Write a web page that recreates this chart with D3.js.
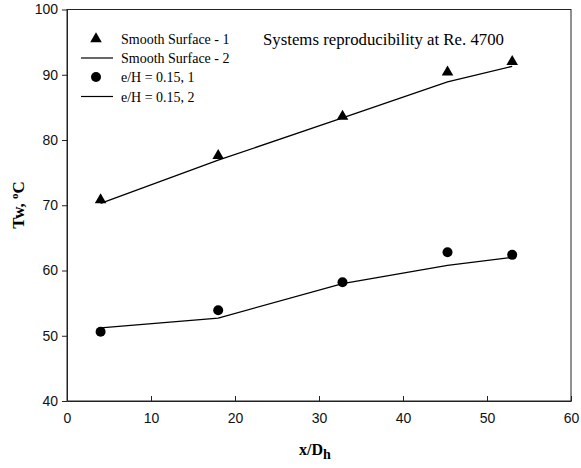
<!DOCTYPE html>
<html>
<head>
<meta charset="utf-8">
<script src="https://cdn.jsdelivr.net/npm/d3@7"></script>
<style>
  html, body { margin: 0; padding: 0; background: #fff; }
  svg { display: block; }
</style>
</head>
<body>
<svg id="chart" width="581" height="468"></svg>
<script>
// Axial positions x/Dh
const xPos = [4, 18, 32.8, 45.3, 53];

// Wall temperatures (°C)
const smooth1 = [70.8, 77.6, 83.6, 90.4, 92.0];   // symbols
const smooth2 = [70.3, 76.9, 83.4, 88.9, 91.3];   // line
const rib1    = [50.6, 53.9, 58.2, 62.8, 62.4];   // symbols
const rib2    = [51.2, 52.7, 58.0, 60.8, 62.0];   // line

const xTicks = [0, 10, 20, 30, 40, 50, 60];
const yTicks = [40, 50, 60, 70, 80, 90, 100];

const legendLabels = ["Smooth Surface - 1", "Smooth Surface - 2", "e/H = 0.15, 1", "e/H = 0.15, 2"];
const noteText = "Systems reproducibility at Re. 4700";

const svg = d3.select("#chart");
const plotL = 67, plotR = 571, plotT = 9.5, plotB = 401;

const x = d3.scaleLinear().domain([0, 60]).range([plotL, plotR]);
const y = d3.scaleLinear().domain([40, 100]).range([plotB, plotT]);

const sans = "'Liberation Sans', Arial, sans-serif";
const serif = "'Liberation Serif', 'Times New Roman', serif";

// frame
svg.append("rect")
  .attr("x", plotL).attr("y", plotT)
  .attr("width", plotR - plotL).attr("height", plotB - plotT)
  .attr("fill", "none").attr("stroke", "#222").attr("stroke-width", 1);

// x axis (ticks pointing into the plot)
const gx = svg.append("g").attr("transform", `translate(0,${plotB})`)
  .call(d3.axisBottom(x).tickValues(xTicks).tickSizeInner(-5).tickSizeOuter(0).tickPadding(12));
gx.select(".domain").attr("stroke", "#222");
gx.selectAll(".tick line").attr("stroke", "#222");
gx.selectAll("text").attr("font-family", sans).attr("font-size", 14).attr("fill", "#111");

// y axis (ticks pointing outward)
const gy = svg.append("g").attr("transform", `translate(${plotL},0)`)
  .call(d3.axisLeft(y).tickValues(yTicks).tickSizeInner(5).tickSizeOuter(0).tickPadding(4));
gy.select(".domain").attr("stroke", "#222");
gy.selectAll(".tick line").attr("stroke", "#222");
gy.selectAll("text").attr("font-family", sans).attr("font-size", 14).attr("fill", "#111");

// axis titles
const xt = svg.append("text")
  .attr("x", 315).attr("y", 455)
  .attr("text-anchor", "middle")
  .attr("font-family", serif).attr("font-weight", "bold").attr("font-size", 16);
xt.append("tspan").text("x/D");
xt.append("tspan").attr("dy", 4).attr("font-size", 14).text("h");

const yt = svg.append("text")
  .attr("transform", "translate(24,205) rotate(-90)")
  .attr("text-anchor", "middle")
  .attr("font-family", serif).attr("font-weight", "bold").attr("font-size", 17);
yt.append("tspan").text("Tw,  ");
yt.append("tspan").attr("dy", -6).attr("font-size", 11).text("o");
yt.append("tspan").attr("dy", 6).text("C");

// lines
const line = d3.line().x((d, i) => x(xPos[i])).y(d => y(d));
[smooth2, rib2].forEach(s => {
  svg.append("path").datum(s)
    .attr("d", line)
    .attr("fill", "none").attr("stroke", "#000").attr("stroke-width", 1.3);
});

// symbols
const tri = d3.symbol().type(d3.symbolTriangle).size(58);
svg.append("g").selectAll("path").data(smooth1).join("path")
  .attr("d", tri)
  .attr("transform", (d, i) => `translate(${x(xPos[i])},${y(d)})`)
  .attr("fill", "#000");

svg.append("g").selectAll("circle").data(rib1).join("circle")
  .attr("cx", (d, i) => x(xPos[i])).attr("cy", d => y(d))
  .attr("r", 5).attr("fill", "#000");

// legend
const rows = [39, 58, 77, 96.5];
const lg = svg.append("g");
legendLabels.forEach((lab, i) => {
  const ry = rows[i];
  if (i === 0) {
    lg.append("path").attr("d", tri).attr("transform", `translate(96,${ry})`).attr("fill", "#000");
  } else if (i === 2) {
    lg.append("circle").attr("cx", 96).attr("cy", ry).attr("r", 5).attr("fill", "#000");
  } else {
    lg.append("line").attr("x1", 81).attr("x2", 113).attr("y1", ry).attr("y2", ry)
      .attr("stroke", "#000").attr("stroke-width", 1.2);
  }
  lg.append("text").attr("x", 121).attr("y", ry + 5)
    .attr("font-family", serif).attr("font-size", 14).attr("fill", "#000")
    .text(lab);
});

// annotation
svg.append("text").attr("x", 263).attr("y", 45)
  .attr("font-family", serif).attr("font-size", 16.8).attr("fill", "#000")
  .text(noteText);
</script>
</body>
</html>
